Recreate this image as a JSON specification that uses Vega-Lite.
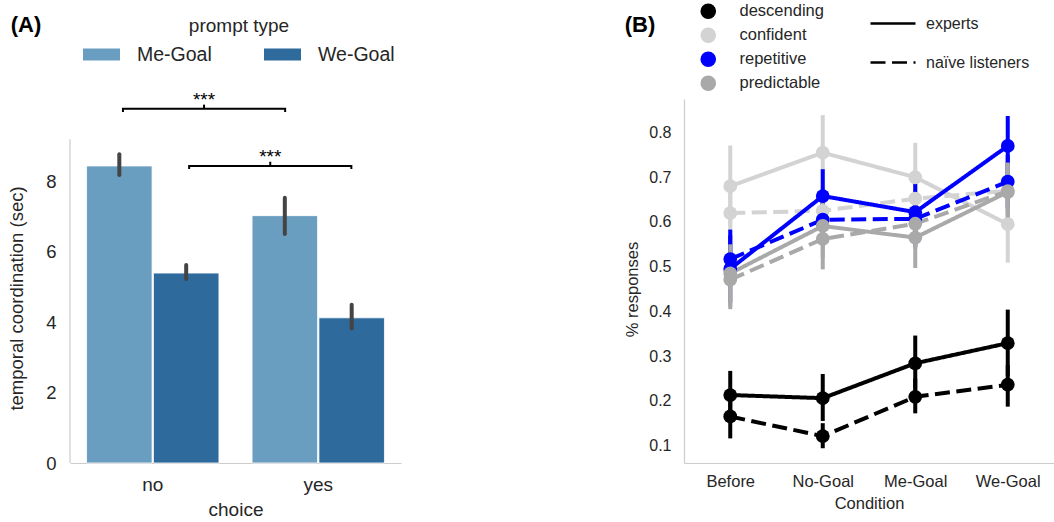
{
  "$schema": "https://vega.github.io/schema/vega-lite/v6.json",
  "padding": {"left": 7, "top": 3, "right": 0, "bottom": 0},
  "config": {
    "view": {"stroke": null},
    "font": "Liberation Sans",
    "axis": {"labelColor": "#262626", "titleColor": "#262626", "titleFontWeight": "normal", "grid": false, "ticks": false, "domainColor": "#cccccc", "domainWidth": 1.2},
    "legend": {"labelColor": "#262626", "titleColor": "#262626", "titleFontWeight": "normal"}
  },
  "resolve": {"scale": {"color": "independent", "strokeDash": "independent"}, "legend": {"color": "independent"}},
  "datasets": {
    "bars": [
      {"choice": "no", "prompt": "Me-Goal", "mean": 8.43, "lo": 8.17, "hi": 8.76},
      {"choice": "no", "prompt": "We-Goal", "mean": 5.39, "lo": 5.22, "hi": 5.62},
      {"choice": "yes", "prompt": "Me-Goal", "mean": 7.02, "lo": 6.5, "hi": 7.53},
      {"choice": "yes", "prompt": "We-Goal", "mean": 4.12, "lo": 3.82, "hi": 4.49}
    ],
    "brackets": [
      {"id": "a", "ord": 0, "x": -0.18, "y": 9.96},
      {"id": "a", "ord": 1, "x": -0.18, "y": 10.05},
      {"id": "a", "ord": 2, "x": 0.8, "y": 10.05},
      {"id": "a", "ord": 3, "x": 0.8, "y": 9.96},
      {"id": "b", "ord": 0, "x": 0.22, "y": 8.34},
      {"id": "b", "ord": 1, "x": 0.22, "y": 8.43},
      {"id": "b", "ord": 2, "x": 1.2, "y": 8.43},
      {"id": "b", "ord": 3, "x": 1.2, "y": 8.34}
    ],
    "sig": [
      {"x": 0.31, "y": 10.05, "y2": 10.17, "ty": 10.13, "label": "***"},
      {"x": 0.71, "y": 8.43, "y2": 8.55, "ty": 8.51, "label": "***"}
    ],
    "resp": [
      {"condition": "Before", "attribute": "descending", "listener": "experts", "mean": 0.213, "lo": 0.16, "hi": 0.267},
      {"condition": "No-Goal", "attribute": "descending", "listener": "experts", "mean": 0.206, "lo": 0.155, "hi": 0.26},
      {"condition": "Me-Goal", "attribute": "descending", "listener": "experts", "mean": 0.284, "lo": 0.225, "hi": 0.346},
      {"condition": "We-Goal", "attribute": "descending", "listener": "experts", "mean": 0.329, "lo": 0.255, "hi": 0.404},
      {"condition": "Before", "attribute": "descending", "listener": "naïve listeners", "mean": 0.165, "lo": 0.116, "hi": 0.21},
      {"condition": "No-Goal", "attribute": "descending", "listener": "naïve listeners", "mean": 0.121, "lo": 0.094, "hi": 0.15},
      {"condition": "Me-Goal", "attribute": "descending", "listener": "naïve listeners", "mean": 0.209, "lo": 0.172, "hi": 0.25},
      {"condition": "We-Goal", "attribute": "descending", "listener": "naïve listeners", "mean": 0.236, "lo": 0.187, "hi": 0.28},
      {"condition": "Before", "attribute": "confident", "listener": "experts", "mean": 0.68, "lo": 0.59, "hi": 0.771},
      {"condition": "No-Goal", "attribute": "confident", "listener": "experts", "mean": 0.755, "lo": 0.67, "hi": 0.839},
      {"condition": "Me-Goal", "attribute": "confident", "listener": "experts", "mean": 0.7, "lo": 0.62, "hi": 0.777},
      {"condition": "We-Goal", "attribute": "confident", "listener": "experts", "mean": 0.595, "lo": 0.509, "hi": 0.68},
      {"condition": "Before", "attribute": "confident", "listener": "naïve listeners", "mean": 0.62, "lo": 0.56, "hi": 0.68},
      {"condition": "No-Goal", "attribute": "confident", "listener": "naïve listeners", "mean": 0.625, "lo": 0.57, "hi": 0.68},
      {"condition": "Me-Goal", "attribute": "confident", "listener": "naïve listeners", "mean": 0.652, "lo": 0.6, "hi": 0.71},
      {"condition": "We-Goal", "attribute": "confident", "listener": "naïve listeners", "mean": 0.67, "lo": 0.61, "hi": 0.73},
      {"condition": "Before", "attribute": "repetitive", "listener": "experts", "mean": 0.495, "lo": 0.42, "hi": 0.583},
      {"condition": "No-Goal", "attribute": "repetitive", "listener": "experts", "mean": 0.658, "lo": 0.6, "hi": 0.718},
      {"condition": "Me-Goal", "attribute": "repetitive", "listener": "experts", "mean": 0.622, "lo": 0.545, "hi": 0.708},
      {"condition": "We-Goal", "attribute": "repetitive", "listener": "experts", "mean": 0.77, "lo": 0.7, "hi": 0.837},
      {"condition": "Before", "attribute": "repetitive", "listener": "naïve listeners", "mean": 0.517, "lo": 0.46, "hi": 0.57},
      {"condition": "No-Goal", "attribute": "repetitive", "listener": "naïve listeners", "mean": 0.605, "lo": 0.55, "hi": 0.66},
      {"condition": "Me-Goal", "attribute": "repetitive", "listener": "naïve listeners", "mean": 0.607, "lo": 0.55, "hi": 0.66},
      {"condition": "We-Goal", "attribute": "repetitive", "listener": "naïve listeners", "mean": 0.69, "lo": 0.63, "hi": 0.75},
      {"condition": "Before", "attribute": "predictable", "listener": "experts", "mean": 0.485, "lo": 0.405, "hi": 0.55},
      {"condition": "No-Goal", "attribute": "predictable", "listener": "experts", "mean": 0.591, "lo": 0.52, "hi": 0.66},
      {"condition": "Me-Goal", "attribute": "predictable", "listener": "experts", "mean": 0.565, "lo": 0.497, "hi": 0.63},
      {"condition": "We-Goal", "attribute": "predictable", "listener": "experts", "mean": 0.667, "lo": 0.602, "hi": 0.733},
      {"condition": "Before", "attribute": "predictable", "listener": "naïve listeners", "mean": 0.471, "lo": 0.41, "hi": 0.53},
      {"condition": "No-Goal", "attribute": "predictable", "listener": "naïve listeners", "mean": 0.562, "lo": 0.494, "hi": 0.62},
      {"condition": "Me-Goal", "attribute": "predictable", "listener": "naïve listeners", "mean": 0.596, "lo": 0.54, "hi": 0.65},
      {"condition": "We-Goal", "attribute": "predictable", "listener": "naïve listeners", "mean": 0.669, "lo": 0.61, "hi": 0.73}
    ]
  },
  "hconcat": [
    {
      "width": 331,
      "height": 364,
      "title": {"text": "(A)", "anchor": "start", "frame": "bounds", "fontSize": 22, "fontWeight": "bold", "color": "black", "font": "Liberation Sans", "offset": -20, "dx": 3},
      "layer": [
        {
          "data": {"name": "bars"},
          "layer": [
            {
              "mark": {"type": "bar", "stroke": "white", "strokeWidth": 0.8},
              "encoding": {
                "x": {"field": "choice", "type": "nominal", "scale": {"paddingInner": 0.2, "paddingOuter": 0.1},
                  "axis": {"title": "choice", "labelAngle": 0, "labelFontSize": 19, "titleFontSize": 19, "labelPadding": 12, "titlePadding": 6}},
                "xOffset": {"field": "prompt", "type": "nominal", "scale": {"paddingInner": 0.02}},
                "y": {"field": "mean", "type": "quantitative", "scale": {"domain": [0, 10.33], "nice": false},
                  "axis": {"title": "temporal coordination (sec)", "values": [0, 2, 4, 6, 8], "domain": false, "labelFontSize": 18.5, "titleFontSize": 18.5, "labelPadding": 14, "titlePadding": 19, "titleY": 199}},
                "color": {"field": "prompt", "type": "nominal", "scale": {"domain": ["Me-Goal", "We-Goal"], "range": ["#6a9ec1", "#2e6a9c"]},
                  "legend": {"title": "prompt type", "orient": "none", "legendX": 13, "legendY": -82, "direction": "horizontal", "titleAnchor": "middle", "titleFontSize": 19, "labelFontSize": 19.5, "symbolType": "M-1,-0.32H1V0.32H-1Z", "symbolSize": 1369, "symbolStrokeWidth": 0, "labelOffset": 17, "columnPadding": 52, "titlePadding": 0}}
              }
            },
            {
              "mark": {"type": "rule", "strokeWidth": 4, "color": "#444444", "strokeCap": "round"},
              "encoding": {
                "x": {"field": "choice", "type": "nominal"},
                "xOffset": {"field": "prompt", "type": "nominal"},
                "y": {"field": "lo", "type": "quantitative", "title": "temporal coordination (sec)"},
                "y2": {"field": "hi"}
              }
            }
          ]
        },
        {
          "layer": [
            {
              "data": {"values": [{}]},
              "mark": {"type": "rule", "color": "#cccccc", "strokeWidth": 1.2},
              "encoding": {
                "x": {"datum": -0.5, "type": "quantitative", "scale": {"domain": [-0.5, 1.5], "nice": false, "zero": false}, "axis": null},
                "y": {"datum": 0, "type": "quantitative", "title": "temporal coordination (sec)"},
                "y2": {"datum": 9.19}
              }
            },
            {
              "data": {"name": "brackets"},
              "mark": {"type": "line", "color": "black", "strokeWidth": 2},
              "encoding": {
                "x": {"field": "x", "type": "quantitative", "axis": null},
                "y": {"field": "y", "type": "quantitative", "title": "temporal coordination (sec)"},
                "detail": {"field": "id"},
                "order": {"field": "ord"}
              }
            },
            {
              "data": {"name": "sig"},
              "mark": {"type": "rule", "color": "black", "strokeWidth": 2},
              "encoding": {
                "x": {"field": "x", "type": "quantitative", "axis": null},
                "y": {"field": "y", "type": "quantitative", "title": "temporal coordination (sec)"},
                "y2": {"field": "y2"}
              }
            },
            {
              "data": {"name": "sig"},
              "mark": {"type": "text", "color": "black", "fontSize": 19, "baseline": "alphabetic", "align": "center"},
              "encoding": {
                "x": {"field": "x", "type": "quantitative", "axis": null},
                "y": {"field": "ty", "type": "quantitative", "title": "temporal coordination (sec)"},
                "text": {"field": "label"}
              }
            }
          ]
        }
      ],
      "resolve": {"scale": {"x": "independent"}}
    },
    {
      "width": 370,
      "height": 364,
      "title": {"text": "(B)", "anchor": "start", "frame": "bounds", "fontSize": 22, "fontWeight": "bold", "color": "black", "font": "Liberation Sans", "offset": -34, "dx": 0},
      "data": {"name": "resp"},
      "layer": [
        {
          "mark": {"type": "rule", "strokeWidth": 4},
          "encoding": {
            "x": {"field": "condition", "type": "nominal", "sort": ["Before", "No-Goal", "Me-Goal", "We-Goal"], "scale": {"type": "point", "padding": 0.5},
              "axis": {"title": "Condition", "labelAngle": 0, "labelFontSize": 16.5, "titleFontSize": 16.5, "labelPadding": 10, "titlePadding": 6}},
            "y": {"field": "lo", "type": "quantitative", "scale": {"domain": [0.061, 0.875], "nice": false, "zero": false},
              "axis": {"title": "% responses", "values": [0.1, 0.2, 0.3, 0.4, 0.5, 0.6, 0.7, 0.8], "format": ".1f", "labelFontSize": 16, "titleFontSize": 16.5, "labelPadding": 13, "titlePadding": 8, "titleY": 190}},
            "y2": {"field": "hi"},
            "color": {"field": "attribute", "type": "nominal", "scale": {"domain": ["descending", "confident", "repetitive", "predictable"], "range": ["#000000", "#d3d3d3", "#0000ff", "#a9a9a9"]},
              "legend": {"title": null, "orient": "none", "legendX": 16, "legendY": -96, "direction": "vertical", "labelFontSize": 16.5, "symbolType": "circle", "symbolSize": 200, "labelOffset": 23, "rowPadding": 3,
                "encode": {"symbols": {"update": {"fill": {"scale": "color", "field": "value"}, "stroke": {"value": "transparent"}, "opacity": {"value": 1}}}}}}
          }
        },
        {
          "mark": {"type": "line", "strokeWidth": 4},
          "encoding": {
            "x": {"field": "condition", "type": "nominal", "sort": ["Before", "No-Goal", "Me-Goal", "We-Goal"]},
            "y": {"field": "mean", "type": "quantitative"},
            "color": {"field": "attribute", "type": "nominal"},
            "strokeDash": {"field": "listener", "type": "nominal", "scale": {"domain": ["experts", "naïve listeners"], "range": [[1, 0], [15, 6.5]]},
              "legend": {"title": null, "orient": "none", "legendX": 198.5, "legendY": -86, "direction": "vertical", "labelFontSize": 16, "symbolType": "M-2.5,0H2.5", "symbolSize": 324, "symbolStrokeWidth": 2.5, "symbolStrokeColor": "black", "symbolFillColor": "transparent", "labelOffset": 22.5, "rowPadding": 20}}
          }
        },
        {
          "mark": {"type": "point", "filled": true, "opacity": 1, "size": 190},
          "encoding": {
            "x": {"field": "condition", "type": "nominal", "sort": ["Before", "No-Goal", "Me-Goal", "We-Goal"]},
            "y": {"field": "mean", "type": "quantitative"},
            "color": {"field": "attribute", "type": "nominal"}
          }
        }
      ]
    }
  ],
  "spacing": 283,
  "bounds": "flush"
}
